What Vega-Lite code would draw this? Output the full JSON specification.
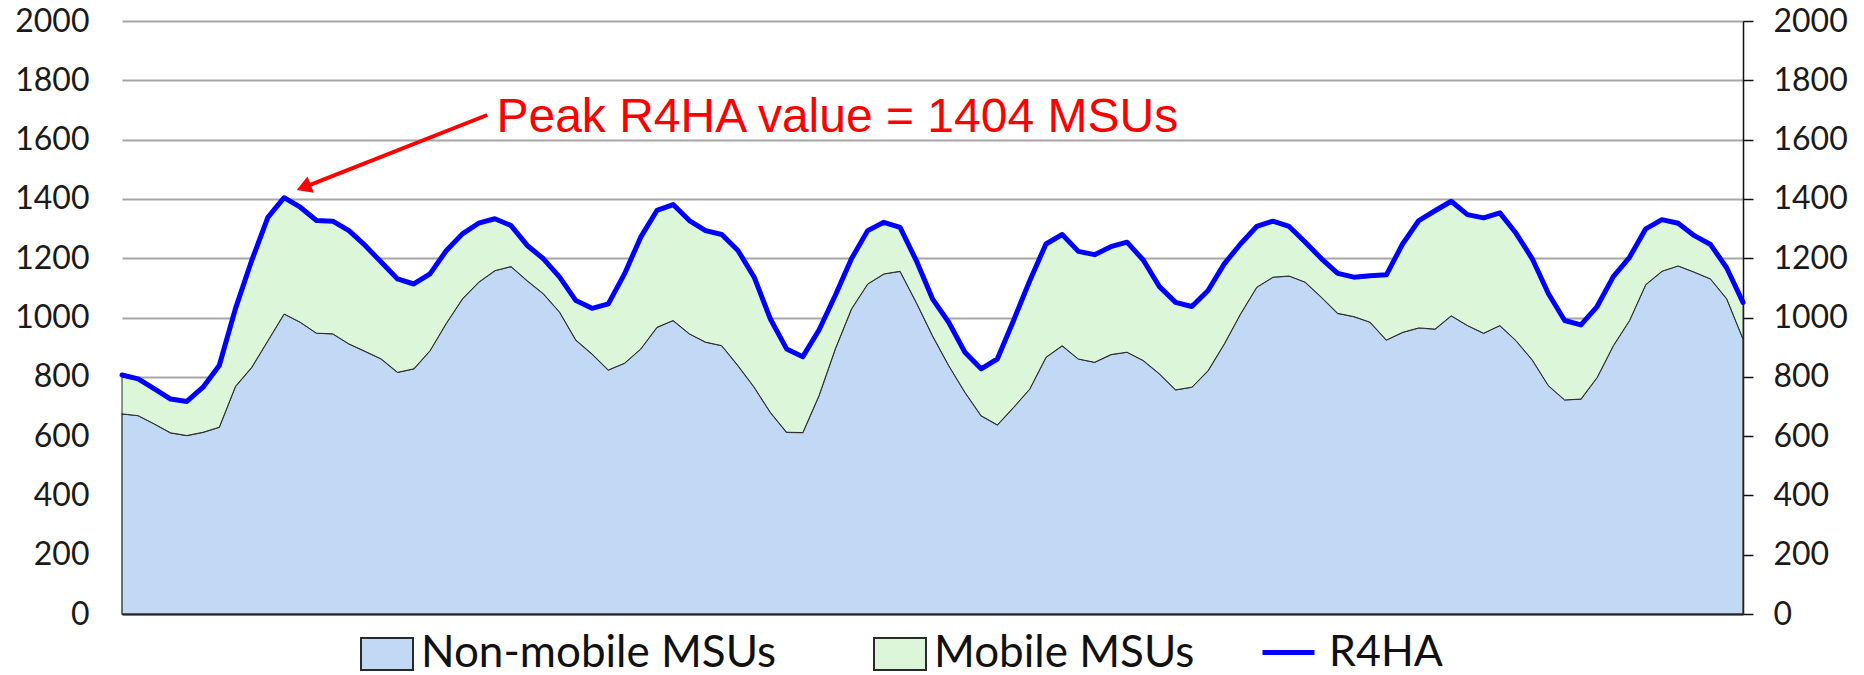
{
  "$schema": "https://vega.github.io/schema/vega-lite/v6.json",
  "autosize": {"type": "none"},
  "padding": {"left": 122, "top": 21, "right": 121, "bottom": 61},
  "width": 1621,
  "height": 593,
  "background": "white",
  "config": {"view": {"stroke": null}},
  "datasets": {
    "msu": [
      {"t":0,"nonmobile":675,"r4ha":806},{"t":1,"nonmobile":669,"r4ha":793},{"t":2,"nonmobile":641,"r4ha":759},{"t":3,"nonmobile":611,"r4ha":725},{"t":4,"nonmobile":602,"r4ha":717},
      {"t":5,"nonmobile":613,"r4ha":765},{"t":6,"nonmobile":630,"r4ha":838},{"t":7,"nonmobile":768,"r4ha":1030},{"t":8,"nonmobile":832,"r4ha":1192},{"t":9,"nonmobile":922,"r4ha":1338},
      {"t":10,"nonmobile":1012,"r4ha":1404},{"t":11,"nonmobile":984,"r4ha":1372},{"t":12,"nonmobile":947,"r4ha":1327},{"t":13,"nonmobile":945,"r4ha":1325},{"t":14,"nonmobile":911,"r4ha":1293},
      {"t":15,"nonmobile":886,"r4ha":1243},{"t":16,"nonmobile":860,"r4ha":1186},{"t":17,"nonmobile":815,"r4ha":1130},{"t":18,"nonmobile":827,"r4ha":1113},{"t":19,"nonmobile":888,"r4ha":1147},
      {"t":20,"nonmobile":980,"r4ha":1225},{"t":21,"nonmobile":1063,"r4ha":1282},{"t":22,"nonmobile":1119,"r4ha":1318},{"t":23,"nonmobile":1158,"r4ha":1333},{"t":24,"nonmobile":1172,"r4ha":1310},
      {"t":25,"nonmobile":1124,"r4ha":1243},{"t":26,"nonmobile":1080,"r4ha":1198},{"t":27,"nonmobile":1018,"r4ha":1136},{"t":28,"nonmobile":924,"r4ha":1057},{"t":29,"nonmobile":877,"r4ha":1031},
      {"t":30,"nonmobile":823,"r4ha":1046},{"t":31,"nonmobile":846,"r4ha":1147},{"t":32,"nonmobile":894,"r4ha":1271},{"t":33,"nonmobile":967,"r4ha":1361},{"t":34,"nonmobile":990,"r4ha":1381},
      {"t":35,"nonmobile":945,"r4ha":1327},{"t":36,"nonmobile":917,"r4ha":1293},{"t":37,"nonmobile":905,"r4ha":1280},{"t":38,"nonmobile":838,"r4ha":1226},{"t":39,"nonmobile":765,"r4ha":1136},
      {"t":40,"nonmobile":680,"r4ha":995},{"t":41,"nonmobile":613,"r4ha":894},{"t":42,"nonmobile":612,"r4ha":868},{"t":43,"nonmobile":737,"r4ha":958},{"t":44,"nonmobile":894,"r4ha":1074},
      {"t":45,"nonmobile":1029,"r4ha":1198},{"t":46,"nonmobile":1113,"r4ha":1293},{"t":47,"nonmobile":1147,"r4ha":1321},{"t":48,"nonmobile":1156,"r4ha":1304},{"t":49,"nonmobile":1051,"r4ha":1192},
      {"t":50,"nonmobile":939,"r4ha":1063},{"t":51,"nonmobile":838,"r4ha":984},{"t":52,"nonmobile":748,"r4ha":883},{"t":53,"nonmobile":669,"r4ha":827},{"t":54,"nonmobile":638,"r4ha":860},
      {"t":55,"nonmobile":697,"r4ha":990},{"t":56,"nonmobile":759,"r4ha":1124},{"t":57,"nonmobile":866,"r4ha":1248},{"t":58,"nonmobile":905,"r4ha":1280},{"t":59,"nonmobile":860,"r4ha":1223},
      {"t":60,"nonmobile":849,"r4ha":1212},{"t":61,"nonmobile":875,"r4ha":1239},{"t":62,"nonmobile":883,"r4ha":1254},{"t":63,"nonmobile":855,"r4ha":1194},{"t":64,"nonmobile":810,"r4ha":1104},
      {"t":65,"nonmobile":756,"r4ha":1051},{"t":66,"nonmobile":765,"r4ha":1037},{"t":67,"nonmobile":821,"r4ha":1091},{"t":68,"nonmobile":911,"r4ha":1181},{"t":69,"nonmobile":1012,"r4ha":1248},
      {"t":70,"nonmobile":1102,"r4ha":1307},{"t":71,"nonmobile":1136,"r4ha":1325},{"t":72,"nonmobile":1140,"r4ha":1307},{"t":73,"nonmobile":1119,"r4ha":1254},{"t":74,"nonmobile":1068,"r4ha":1198},
      {"t":75,"nonmobile":1014,"r4ha":1149},{"t":76,"nonmobile":1003,"r4ha":1136},{"t":77,"nonmobile":984,"r4ha":1141},{"t":78,"nonmobile":924,"r4ha":1144},{"t":79,"nonmobile":950,"r4ha":1248},
      {"t":80,"nonmobile":965,"r4ha":1327},{"t":81,"nonmobile":961,"r4ha":1360},{"t":82,"nonmobile":1006,"r4ha":1392},{"t":83,"nonmobile":973,"r4ha":1347},{"t":84,"nonmobile":947,"r4ha":1336},
      {"t":85,"nonmobile":973,"r4ha":1353},{"t":86,"nonmobile":922,"r4ha":1284},{"t":87,"nonmobile":857,"r4ha":1198},{"t":88,"nonmobile":770,"r4ha":1080},{"t":89,"nonmobile":722,"r4ha":990},
      {"t":90,"nonmobile":725,"r4ha":975},{"t":91,"nonmobile":798,"r4ha":1037},{"t":92,"nonmobile":905,"r4ha":1138},{"t":93,"nonmobile":990,"r4ha":1203},{"t":94,"nonmobile":1111,"r4ha":1299},
      {"t":95,"nonmobile":1156,"r4ha":1330},{"t":96,"nonmobile":1174,"r4ha":1318},{"t":97,"nonmobile":1153,"r4ha":1276},{"t":98,"nonmobile":1130,"r4ha":1246},{"t":99,"nonmobile":1063,"r4ha":1167},
      {"t":100,"nonmobile":928,"r4ha":1051}
    ],
    "arrow": [{"t": 22.53, "v": 1683, "t2": 11.21, "v2": 1439}],
    "arrowhead": [{"t": 11.21, "v": 1439}],
    "note": [{"t": 23.1, "v": 1625, "label": "Peak R4HA value = 1404 MSUs"}]
  },
  "layer": [
    {
      "data": {"name": "msu"},
      "mark": {"type": "area", "stroke": "#2a2a2a", "strokeWidth": 1.3, "fillOpacity": 1},
      "encoding": {
        "x": {"field": "t", "type": "quantitative", "scale": {"domain": [0, 100], "nice": false, "zero": false},
              "axis": {"title": null, "labels": false, "ticks": false, "grid": false, "domain": true, "domainColor": "#222222", "domainWidth": 2}},
        "y": {"field": "nonmobile", "type": "quantitative", "scale": {"domain": [0, 2000], "nice": false},
              "axis": {"orient": "left", "title": null, "format": "d", "values": [0,200,400,600,800,1000,1200,1400,1600,1800,2000], "ticks": false, "domain": false,
                       "grid": true, "gridColor": "#a6a6a6", "gridWidth": 2, "labelFont": "Lato", "labelFontSize": 32, "labelColor": "#1a1a1a", "labelPadding": 33}},
        "fill": {"datum": "Non-mobile MSUs", "type": "nominal",
                  "scale": {"domain": ["Non-mobile MSUs", "Mobile MSUs"], "range": ["#c2d9f5", "#dcf6da"]},
                  "legend": {"title": null, "orient": "none", "legendX": 238, "legendY": 606, "direction": "horizontal",
                             "labelFont": "Lato", "labelFontSize": 44, "labelColor": "#111111", "labelOffset": 7, "columnPadding": 93,
                             "symbolSize": 2704, "symbolType": "M-1,-0.62H1V0.62H-1Z", "symbolStrokeColor": "#333333", "symbolStrokeWidth": 2,
                             "symbolOpacity": 1, "padding": 0, "labelLimit": 600}}
      }
    },
    {
      "data": {"name": "msu"},
      "mark": {"type": "area", "stroke": "#2a2a2a", "strokeWidth": 1, "fillOpacity": 1},
      "encoding": {
        "x": {"field": "t", "type": "quantitative"},
        "y": {"field": "r4ha", "type": "quantitative",
              "axis": {"orient": "right", "title": null, "format": "d", "values": [0,200,400,600,800,1000,1200,1400,1600,1800,2000], "grid": false,
                       "domain": true, "domainColor": "#111111", "domainWidth": 1.5, "ticks": true, "tickColor": "#111111", "tickWidth": 1.5, "tickSize": 10,
                       "labelFont": "Lato", "labelFontSize": 32, "labelColor": "#1a1a1a", "labelPadding": 20}},
        "y2": {"field": "nonmobile"},
        "fill": {"datum": "Mobile MSUs", "type": "nominal"}
      }
    },
    {
      "data": {"name": "msu"},
      "mark": {"type": "line", "strokeWidth": 5, "strokeJoin": "round", "strokeCap": "round"},
      "encoding": {
        "x": {"field": "t", "type": "quantitative"},
        "y": {"field": "r4ha", "type": "quantitative", "axis": null},
        "stroke": {"datum": "R4HA", "type": "nominal",
                   "scale": {"domain": ["R4HA"], "range": ["#0000ff"]},
                   "legend": {"title": null, "orient": "none", "legendX": 1138, "legendY": 603, "direction": "horizontal",
                              "labelFont": "Lato", "labelFontSize": 43, "labelColor": "#111111", "labelOffset": 12,
                              "symbolSize": 2704, "symbolType": "stroke", "symbolStrokeWidth": 5, "padding": 0, "labelLimit": 600}}
      }
    },
    {
      "data": {"name": "arrow"},
      "mark": {"type": "rule", "color": "#ff0000", "strokeWidth": 4},
      "encoding": {
        "x": {"field": "t", "type": "quantitative"},
        "y": {"field": "v", "type": "quantitative", "axis": null},
        "x2": {"field": "t2"},
        "y2": {"field": "v2"}
      }
    },
    {
      "data": {"name": "arrowhead"},
      "mark": {"type": "point", "shape": "triangle-up", "filled": true, "color": "#ff0000", "size": 300, "angle": 248.5, "opacity": 1},
      "encoding": {
        "x": {"field": "t", "type": "quantitative"},
        "y": {"field": "v", "type": "quantitative", "axis": null}
      }
    },
    {
      "data": {"name": "note"},
      "mark": {"type": "text", "align": "left", "baseline": "alphabetic", "font": "Liberation Sans", "fontSize": 48, "color": "#ff0000"},
      "encoding": {
        "x": {"field": "t", "type": "quantitative"},
        "y": {"field": "v", "type": "quantitative", "axis": null},
        "text": {"field": "label"}
      }
    }
  ],
  "resolve": {"axis": {"y": "independent"}}
}
